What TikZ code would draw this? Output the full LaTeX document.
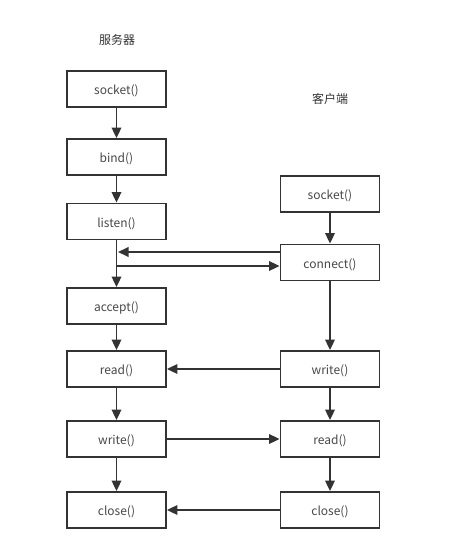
\documentclass[tikz,border=0pt]{standalone}
\usepackage{fontspec}
\setmainfont{Noto Sans CJK SC}
\usetikzlibrary{arrows.meta}
\definecolor{ink}{HTML}{333333}
\begin{document}
\begin{tikzpicture}[x=1pt,y=-1pt,
  fnbox/.style={draw=ink,line width=1.8pt,minimum width=99pt,minimum height=36pt,inner sep=0pt,text height=12pt,text depth=1pt,font=\fontsize{12}{14}\selectfont,text=ink!90},
  lbl/.style={font=\fontsize{12}{14}\selectfont,text=ink},
  conn/.style={draw=ink,line width=1.8pt,-{Triangle[length=10.5pt,width=9.5pt]}}]
\useasboundingbox (0,0) rectangle (451,552);
\node[lbl] (srv) at (117,40) {服务器};
\node[lbl] (cli) at (330,99) {客户端};
\node[fnbox] (s1) at (116.5,89) {socket()};
\node[fnbox] (s2) at (116.5,157) {bind()};
\node[fnbox] (s3) at (116.5,221.5) {listen()};
\node[fnbox] (s4) at (116.5,306) {accept()};
\node[fnbox] (s5) at (116.5,369) {read()};
\node[fnbox] (s6) at (116.5,439) {write()};
\node[fnbox] (s7) at (116.5,510) {close()};
\node[fnbox] (c1) at (330,194) {socket()};
\node[fnbox] (c2) at (330,262.5) {connect()};
\node[fnbox] (c3) at (330,369) {write()};
\node[fnbox] (c4) at (330,439) {read()};
\node[fnbox] (c5) at (330,510) {close()};
\coordinate (ja) at (116.5,252);
\coordinate (jb) at (116.5,266);
\draw[conn] (s1) -- (s2);
\draw[conn] (s2) -- (s3);
\draw[conn] (s3) -- (s4);
\draw[conn] (c1) -- (c2);
\draw[conn] (c2) -- (c3);
\draw[conn] (c3) -- (c4);
\draw[conn] (c4) -- (c5);
\draw[conn] (s4) -- (s5);
\draw[conn] (s5) -- (s6);
\draw[conn] (s6) -- (s7);
\draw[conn] (c2.west |- ja) -- ([xshift=1.5pt]ja);
\draw[conn] (jb) -- (c2.west |- jb);
\draw[conn] (c3) -- (s5);
\draw[conn] (s6) -- (c4);
\draw[conn] (c5) -- (s7);
\end{tikzpicture}
\end{document}
